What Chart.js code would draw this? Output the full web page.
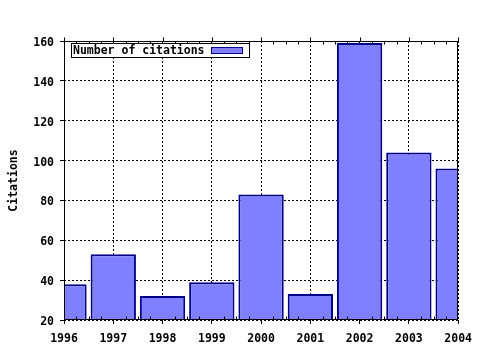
<!DOCTYPE html>
<html>
<head>
<meta charset="utf-8">
<script src="https://cdn.jsdelivr.net/npm/chart.js@4"></script>
<style>
html,body{margin:0;padding:0;background:#fff;}
#wrap{width:480px;height:350px;position:relative;}
</style>
</head>
<body>
<div id="wrap"><canvas id="c" width="480" height="350"></canvas></div>
<script>
const years = [1996, 1997, 1998, 1999, 2000, 2001, 2002, 2003, 2004];
const citations = [38, 53, 32, 39, 83, 33, 159, 104, 96];
const seriesLabel = 'Number of citations';
const yTitle = 'Citations';
const yMin = 20, yMax = 160, yStep = 20;

const FONT = {family: "'DejaVu Sans Mono', monospace", weight: 'bold', size: 11.5};
Chart.defaults.font.family = FONT.family;
Chart.defaults.font.weight = 'bold';
Chart.defaults.font.size = FONT.size;
Chart.defaults.color = '#000';

const framePlugin = {
  id: 'frame',
  afterDatasetsDraw(chart) {
    const {ctx, chartArea: a, scales: {x}} = chart;
    ctx.save();
    ctx.strokeStyle = '#000';
    ctx.lineWidth = 1;
    ctx.setLineDash([]);
    const L = Math.round(a.left) + 0.5, R = Math.round(a.right) - 0.5;
    const T = Math.round(a.top) + 0.5, B = Math.round(a.bottom) - 0.5;
    ctx.beginPath();
    ctx.rect(L, T, R - L, B - T);
    ctx.stroke();
    ctx.beginPath();
    const x0 = years[0], x1 = years[years.length - 1];
    for (let v = x0; v <= x1 + 1e-9; v += 0.25) {
      const px = Math.round(x.getPixelForValue(v)) + 0.5;
      const major = Math.abs(v - Math.round(v)) < 1e-9;
      if (major) {
        ctx.moveTo(px, T); ctx.lineTo(px, T - 4);
      } else {
        ctx.moveTo(px, T); ctx.lineTo(px, T + 3);
        ctx.moveTo(px, B); ctx.lineTo(px, B - 3);
      }
    }
    ctx.stroke();
    // legend
    const lx = 71.5, ly = 43.5, lw = 178, lh = 14;
    ctx.fillStyle = '#fff';
    ctx.fillRect(lx, ly, lw, lh);
    ctx.strokeRect(lx, ly, lw, lh);
    ctx.fillStyle = '#000';
    ctx.font = 'bold ' + FONT.size + 'px ' + FONT.family;
    ctx.textBaseline = 'middle';
    ctx.textAlign = 'left';
    const ds = chart.data.datasets[0];
    ctx.fillText(ds.label, 73, ly + lh / 2 + 0.5);
    ctx.fillStyle = ds.backgroundColor;
    ctx.fillRect(211, 47.5, 32, 6);
    ctx.strokeStyle = ds.borderColor;
    ctx.strokeRect(211.5, 47.5, 31, 6);
    ctx.restore();
  }
};

new Chart(document.getElementById('c'), {
  type: 'bar',
  data: {
    datasets: [{
      label: seriesLabel,
      data: years.map((y, i) => ({x: y, y: citations[i]})),
      backgroundColor: '#8080ff',
      borderColor: '#000088',
      borderWidth: 2,
      barPercentage: 0.92,
      categoryPercentage: 1
    }]
  },
  options: {
    responsive: false,
    animation: false,
    layout: {padding: {top: 41, right: 21, left: 0, bottom: 0}},
    plugins: {legend: {display: false}, tooltip: {enabled: false}},
    scales: {
      x: {
        type: 'linear',
        offset: false,
        min: years[0],
        max: years[years.length - 1],
        grid: {offset: false, color: '#000', lineWidth: 1, tickLength: 4, tickColor: '#000', drawTicks: true},
        border: {display: false, dash: [2, 2]},
        ticks: {stepSize: 1, padding: 8, maxRotation: 0, autoSkip: false, callback: v => String(v)},
        afterFit: s => { s.height = 30; }
      },
      y: {
        min: yMin,
        max: yMax,
        grid: {color: '#000', lineWidth: 1, tickLength: 4, tickColor: '#000'},
        border: {display: false, dash: [2, 2]},
        ticks: {stepSize: yStep, padding: 6, labelOffset: 2},
        title: {display: true, text: yTitle, padding: {top: 7, bottom: 0}, font: FONT},
        afterFit: s => { s.width = 64; }
      }
    }
  },
  plugins: [framePlugin]
});
</script>
</body>
</html>
